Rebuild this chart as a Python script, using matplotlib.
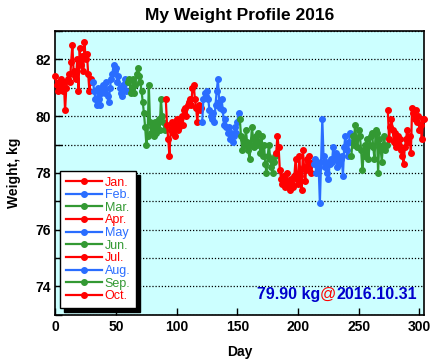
import matplotlib
matplotlib.use('Agg')
import matplotlib.pyplot as plt
import numpy as np

months = ['Jan.', 'Feb.', 'Mar.', 'Apr.', 'May', 'Jun.', 'Jul.', 'Aug.', 'Sep.', 'Oct.']
colors = ['#ff0000', '#2a6dff', '#339933'] * 3 + ['#ff0000']

jan = [81.4, 81.1, 80.9, 81.2, 81.0, 81.3, 80.9, 81.2, 80.2, 81.0, 81.3, 81.5, 81.2, 81.9, 82.5, 81.6,
       81.4, 81.3, 82.0, 80.9, 82.4, 81.8, 82.1, 81.6, 82.6, 82.0, 82.2, 81.5, 80.9, 81.3, 81.2]
feb = [81.2, 80.9, 80.6, 80.4, 81.0, 80.6, 80.4, 80.8, 81.1, 80.9, 80.8, 81.2, 80.7, 80.5, 81.0,
       81.3, 81.5, 81.8, 81.6, 81.7, 81.2, 81.4, 81.0, 80.8, 80.7, 81.1, 81.3, 80.9, 81.2]
mar = [81.2, 81.3, 80.8, 81.0, 81.3, 80.8, 81.1, 81.5, 81.7, 81.4, 81.2, 80.9, 80.5, 80.1, 79.6, 79.0,
       79.3, 81.1, 79.8, 79.4, 79.6, 79.3, 79.8, 79.4, 79.6, 79.9, 79.5, 80.6, 80.0, 79.8, 79.5]
apr = [80.6, 79.7, 79.2, 78.6, 79.5, 79.8, 79.4, 79.7, 79.3, 79.9, 79.5, 79.6, 79.8, 80.0, 79.7,
       80.2, 80.3, 80.0, 80.4, 80.5, 80.6, 80.4, 81.0, 81.1, 80.6, 80.3, 79.8, 80.4, 80.2, 80.3]
may = [79.8, 80.6, 80.8, 80.7, 80.9, 80.6, 80.2, 80.0, 79.9, 80.1, 79.8, 80.4, 80.9, 81.3, 80.5, 80.3,
       80.6, 80.2, 79.7, 79.9, 79.6, 79.4, 79.6, 79.2, 79.4, 79.1, 79.3, 79.6, 79.4, 79.8, 80.1]
jun = [79.9, 79.3, 78.8, 79.2, 79.0, 79.5, 79.1, 78.8, 78.5, 79.0, 79.6, 79.2, 78.9, 79.3, 79.0,
       79.4, 79.1, 78.7, 79.3, 78.6, 79.0, 78.3, 78.0, 78.6, 79.0, 78.5, 78.2, 78.0, 78.4, 78.6]
jul = [78.7, 79.3, 78.9, 78.1, 77.8, 77.6, 77.9, 77.5, 77.7, 78.0, 77.6, 77.4, 77.8, 77.6, 77.5, 77.9,
       78.5, 77.8, 77.6, 78.6, 77.9, 77.4, 78.8, 78.2, 77.7, 78.5, 78.1, 78.6, 78.3, 78.0, 78.4]
aug = [78.3, 78.5, 78.0, 78.4, 78.2, 76.95, 78.4, 79.9, 78.6, 78.2, 78.4, 78.0, 77.8, 78.3, 78.5, 78.4,
       78.9, 78.5, 78.7, 78.2, 78.6, 78.3, 78.5, 78.6, 77.9, 78.9, 79.3, 78.8, 78.6, 79.1, 79.4]
sep = [78.6, 79.3, 79.0, 79.7, 79.2, 78.9, 79.5, 79.3, 78.8, 78.1, 78.6, 79.0, 78.7, 79.2, 78.5,
       79.0, 79.3, 79.4, 78.9, 78.5, 79.5, 79.4, 78.0, 79.2, 78.9, 78.4, 79.0, 79.3, 78.8, 79.0]
oct_ = [80.2, 79.2, 79.6, 79.9, 79.5, 79.1, 79.4, 78.9, 79.3, 79.0, 79.2, 78.8, 78.6, 78.3, 78.9, 79.2,
        79.5, 79.1, 79.3, 78.7, 80.3, 80.1, 79.9, 80.2, 79.8, 80.0, 79.5, 79.7, 79.2, 79.9, 79.9]

series = [jan, feb, mar, apr, may, jun, jul, aug, sep, oct_]

plt.rcParams['font.family'] = ['Liberation Sans', 'DejaVu Sans']

fig = plt.figure(figsize=(4.36, 3.64), dpi=100)
ax = fig.add_axes([0.127, 0.135, 0.846, 0.78])
ax.set_facecolor('#ccffff')

start = 0
for name, vals, c in zip(months, series, colors):
    days = np.arange(start, start + len(vals))
    ax.plot(days, vals, '-o', color=c, lw=1.6, ms=4, label=name, clip_on=False, zorder=3)
    start += len(vals)

ax.set_xlim(0, 304)
ax.set_ylim(73, 83)
ax.set_xticks(range(0, 301, 50))
ax.set_yticks(range(73, 84))
ax.set_yticklabels([str(v) if v % 2 == 0 else '' for v in range(73, 84)])
ax.yaxis.grid(True, ls=(0, (1, 1.5)), color='black', lw=0.9)
ax.tick_params(direction='in', length=5, width=1, labelsize=10)
for lab in ax.get_xticklabels() + ax.get_yticklabels():
    lab.set_fontweight('bold')
for s in ax.spines.values():
    s.set_linewidth(1.2)

ax.set_title('My Weight Profile 2016', fontsize=12.5, fontweight='bold', pad=8)
ax.set_xlabel('Day', fontsize=10, fontweight='bold', labelpad=8)
ax.set_ylabel('Weight, kg', fontsize=10, fontweight='bold', labelpad=10)

leg = ax.legend(loc='lower left', bbox_to_anchor=(0.013, 0.025), borderaxespad=0, fontsize=9,
                fancybox=False, edgecolor='black', framealpha=1,
                shadow={'color': 'black', 'alpha': 1, 'ox': 3, 'oy': -3},
                handlelength=2.9, handletextpad=0.2, labelspacing=0.05, borderpad=0.45)
leg.get_frame().set_linewidth(1.0)
for txt, c in zip(leg.get_texts(), colors):
    txt.set_color(c)

t1 = ax.text(0.98, 0.045, '2016.10.31', transform=ax.transAxes, ha='right', va='bottom',
             fontsize=11.5, fontweight='bold', color='#0000cc')
t2 = ax.annotate('@', xy=(0, 0), xycoords=t1, ha='right', va='bottom', fontsize=11.5, color='#ff0000')
ax.annotate('79.90 kg', xy=(0, 0), xycoords=t2, ha='right', va='bottom', fontsize=11.5,
            fontweight='bold', color='#0000cc')

fig.savefig('out.png', dpi=100)
